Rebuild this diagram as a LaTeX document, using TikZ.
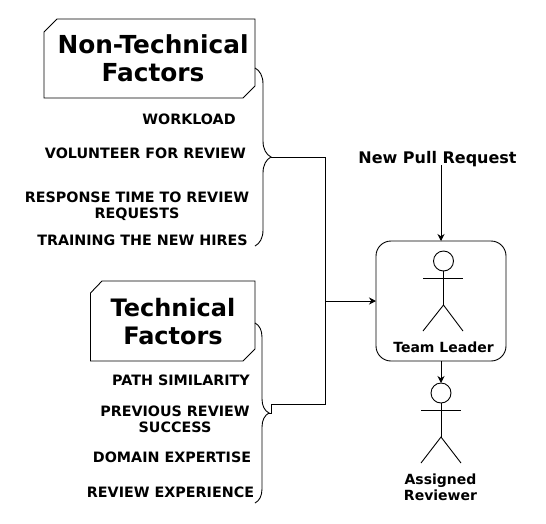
\documentclass[tikz,border=0pt]{standalone}
\usepackage{fontspec}
\setmainfont{DejaVu Sans}
\usetikzlibrary{arrows.meta,decorations.pathreplacing}

\begin{document}
\begin{tikzpicture}
[
	x=1pt,y=-1pt,
	line width=0.9pt,
	title/.style={font=\fontsize{#1}{28}\selectfont\bfseries,align=center,inner sep=0pt},
	factor/.style={font=\fontsize{14.3}{16}\selectfont\bfseries,align=center,inner sep=0pt},
	actor/.style={font=\fontsize{14}{16}\selectfont\bfseries,align=center,inner sep=0pt},
	head/.style={circle,draw,inner sep=0pt,outer sep=0pt,minimum size=20pt},
	bracket/.style={decorate,decoration={brace,amplitude=#1}},
	flow/.style={-{Stealth[length=7pt,width=7pt]}}
]

	\useasboundingbox (0,0) rectangle (546,523);

	% factor boxes
	\draw (44,32) -- (57,19) -- (255,19) -- (255,86) -- (243,98) -- (44,98) -- cycle;
	\draw (90.5,293) -- (102,281) -- (255,281) -- (255,349) -- (243,361) -- (90.5,361) -- cycle;
	\node[title=24.8] at (153,58.5) (nontechtitle) {Non-Technical\\Factors};
	\node[title=24] at (173,321.5) (techtitle) {Technical\\Factors};

	% non-technical factors
	\node[factor] at (189,119.5) (workload) {WORKLOAD};
	\node[factor] at (145.5,153.5) (volunteer) {VOLUNTEER FOR REVIEW};
	\node[factor] at (137,206.5) (response) {RESPONSE TIME TO REVIEW\\REQUESTS};
	\node[factor] at (142.5,240.5) (training) {TRAINING THE NEW HIRES};

	% technical factors
	\node[factor] at (181,380.5) (path) {PATH SIMILARITY};
	\node[factor] at (175,419.5) (previous) {PREVIOUS REVIEW\\SUCCESS};
	\node[factor] at (172,457.5) (domain) {DOMAIN EXPERTISE};
	\node[factor] at (170.5,492.5) (experience) {REVIEW EXPERIENCE};

	% braces
	\coordinate (nontechstart) at (255,68);
	\coordinate (nontechend) at (255,246);
	\coordinate (nontechtip) at (271,157.5);
	\coordinate (techstart) at (255,323);
	\coordinate (techend) at (255,503);
	\coordinate (techtip) at (269,413);
	\draw[bracket=16pt] (nontechstart) -- (nontechend);
	\draw[bracket=14pt] (techstart) -- (techend);

	% team leader
	\node[draw,rounded corners=15pt,minimum width=130pt,minimum height=120pt,inner sep=0pt,outer sep=0pt] at (441,301) (leader) {};
	\node[head] at (443.5,261) (leaderhead) {};
	\node[actor] at (443.5,347.5) (leadername) {Team Leader};
	\coordinate (leaderhip) at (443.5,305);
	\draw (leaderhead.south) -- (leaderhip);
	\draw (423,278) -- (463,278);
	\draw (423,331) -- (leaderhip) -- (463,331);

	% assigned reviewer
	\node[head] at (441,393) (reviewerhead) {};
	\node[actor] at (440.5,487.5) (reviewername) {Assigned\\Reviewer};
	\coordinate (reviewerhip) at (441,437);
	\draw (reviewerhead.south) -- (reviewerhip);
	\draw (421,410) -- (461,410);
	\draw (421,463) -- (reviewerhip) -- (461,463);

	% pull request
	\node[font=\fontsize{16}{18}\selectfont\bfseries,inner sep=0pt] at (437.5,159) (pullreq) {New Pull Request};
	\coordinate (pulltail) at (441,165);

	% connectors
	\coordinate (mergetop) at (325,157.5);
	\coordinate (mergeout) at (325,301);
	\coordinate (mergelow) at (325,404);
	\coordinate (techstep) at (271,404);
	\coordinate (techfoot) at (271,413);
	\draw (nontechtip) -- (mergetop) -- (mergelow) -- (techstep) -- (techfoot) -- (techtip);
	\draw[flow] (mergeout) -- (leader.west);
	\draw[flow] (pulltail) -- (leader.north);
	\draw[flow] (leader.south) -- (reviewerhead.north);

\end{tikzpicture}
\end{document}
